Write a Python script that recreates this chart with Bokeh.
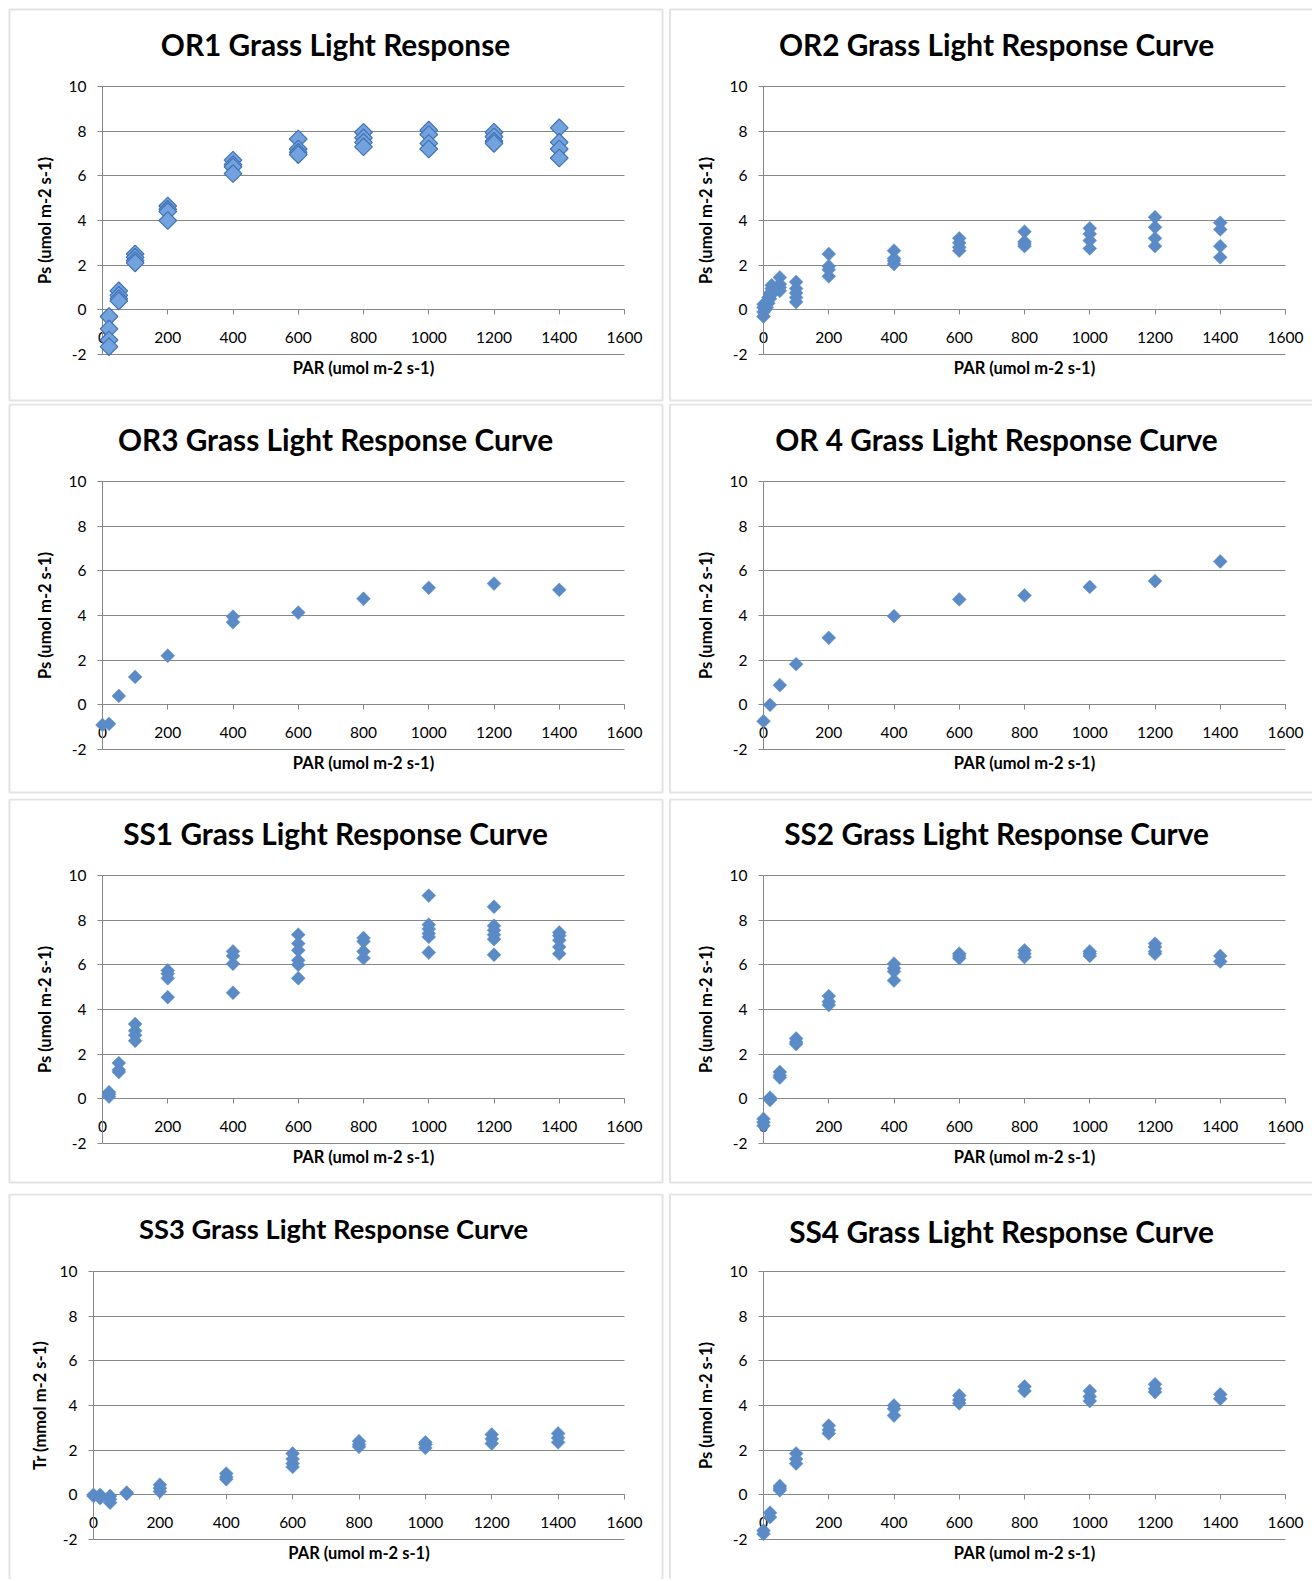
import math
from bokeh.plotting import figure
from bokeh.models import FixedTicker, Range1d, Label, BoxAnnotation
from bokeh.layouts import column, row
from bokeh.embed import file_html
from bokeh.resources import INLINE

# ---------------- data ----------------
x_ticks = [0, 200, 400, 600, 800, 1000, 1200, 1400, 1600]
x_tick_labels = ["0", "200", "400", "600", "800", "1000", "1200", "1400", "1600"]
y_ticks = [-2, 0, 2, 4, 6, 8, 10]
y_tick_labels = ["-2", "0", "2", "4", "6", "8", "10"]

x_label = "PAR (umol m-2 s-1)"
ps_label = "Ps (umol m-2 s-1)"
tr_label = "Tr (mmol m-2 s-1)"

titles = [
    "OR1 Grass Light Response",
    "OR2 Grass Light Response Curve",
    "OR3 Grass Light Response Curve",
    "OR 4 Grass Light Response Curve",
    "SS1 Grass Light Response Curve",
    "SS2 Grass Light Response Curve",
    "SS3 Grass Light Response Curve",
    "SS4 Grass Light Response Curve",
]

or1_par = [20, 20, 20, 20, 50, 50, 50, 50, 100, 100, 100, 100, 200, 200, 200, 200,
           400, 400, 400, 400, 600, 600, 600, 600, 800, 800, 800, 800,
           1000, 1000, 1000, 1000, 1200, 1200, 1200, 1200, 1400, 1400, 1400, 1400]
or1_ps = [-0.3, -0.85, -1.35, -1.65, 0.85, 0.65, 0.5, 0.4, 2.5, 2.35, 2.2, 2.1,
          4.65, 4.5, 4.4, 4.0, 6.7, 6.5, 6.4, 6.1, 7.65, 7.2, 7.05, 6.95,
          7.95, 7.7, 7.5, 7.3, 8.05, 7.85, 7.45, 7.2, 7.95, 7.75, 7.55, 7.45,
          8.15, 7.5, 7.2, 6.8]

or2_par = [0, 0, 0, 0, 5, 5, 10, 10, 15, 15, 20, 20, 25, 25, 25,
           50, 50, 50, 50, 100, 100, 100, 100, 100, 200, 200, 200, 200,
           400, 400, 400, 400, 600, 600, 600, 600, 800, 800, 800, 800,
           1000, 1000, 1000, 1000, 1200, 1200, 1200, 1200, 1400, 1400, 1400, 1400]
or2_ps = [-0.3, -0.1, 0.1, 0.25, 0.0, 0.2, 0.1, 0.35, 0.3, 0.55, 0.5, 0.75, 0.7, 0.95, 1.1,
          1.45, 1.15, 1.0, 0.85, 1.25, 0.95, 0.75, 0.55, 0.35, 2.5, 1.95, 1.8, 1.5,
          2.65, 2.3, 2.2, 2.05, 3.2, 3.0, 2.8, 2.65, 3.5, 3.05, 2.95, 2.85,
          3.65, 3.4, 3.1, 2.75, 4.15, 3.7, 3.2, 2.85, 3.9, 3.6, 2.85, 2.35]

or3_par = [0, 20, 50, 100, 200, 400, 400, 600, 800, 1000, 1200, 1400]
or3_ps = [-0.9, -0.85, 0.4, 1.25, 2.2, 3.95, 3.7, 4.13, 4.75, 5.24, 5.43, 5.15]

or4_par = [0, 20, 50, 100, 200, 400, 600, 800, 1000, 1200, 1400]
or4_ps = [-0.73, 0.0, 0.88, 1.82, 3.0, 3.97, 4.72, 4.9, 5.28, 5.54, 6.42]

ss1_par = [20, 20, 20, 50, 50, 50, 100, 100, 100, 100, 200, 200, 200, 200,
           400, 400, 400, 400, 600, 600, 600, 600, 600, 600, 800, 800, 800, 800,
           1000, 1000, 1000, 1000, 1000, 1000, 1200, 1200, 1200, 1200, 1200, 1200,
           1400, 1400, 1400, 1400, 1400]
ss1_ps = [0.3, 0.2, 0.1, 1.6, 1.3, 1.2, 3.35, 3.05, 2.85, 2.6, 5.75, 5.6, 5.4, 4.55,
          6.6, 6.4, 6.05, 4.75, 7.35, 6.95, 6.65, 6.2, 6.0, 5.4, 7.2, 7.05, 6.6, 6.3,
          9.1, 7.8, 7.6, 7.4, 7.25, 6.55, 8.6, 7.75, 7.55, 7.35, 7.15, 6.45,
          7.45, 7.3, 7.1, 6.8, 6.5]

ss2_par = [0, 0, 0, 20, 20, 20, 50, 50, 50, 100, 100, 100, 200, 200, 200,
           400, 400, 400, 400, 600, 600, 600, 800, 800, 800, 1000, 1000, 1000,
           1200, 1200, 1200, 1200, 1400, 1400]
ss2_ps = [-0.9, -1.05, -1.2, 0.05, 0.0, -0.05, 1.2, 1.05, 0.95, 2.7, 2.55, 2.45, 4.6, 4.35, 4.2,
          6.05, 5.85, 5.7, 5.3, 6.5, 6.4, 6.3, 6.65, 6.5, 6.35, 6.6, 6.5, 6.4,
          6.95, 6.8, 6.6, 6.5, 6.4, 6.15]

ss3_par = [0, 0, 20, 20, 50, 50, 50, 100, 100, 200, 200, 200, 400, 400, 400,
           600, 600, 600, 600, 800, 800, 800, 1000, 1000, 1000, 1200, 1200, 1200,
           1400, 1400, 1400]
ss3_tr = [0.0, -0.05, 0.0, -0.15, -0.05, -0.2, -0.35, 0.1, 0.05, 0.45, 0.3, 0.15, 0.95, 0.8, 0.7,
          1.85, 1.6, 1.4, 1.25, 2.4, 2.25, 2.15, 2.35, 2.25, 2.1, 2.7, 2.5, 2.3,
          2.75, 2.55, 2.35]

ss4_par = [0, 0, 20, 20, 50, 50, 50, 100, 100, 100, 200, 200, 200, 400, 400, 400,
           600, 600, 600, 800, 800, 1000, 1000, 1000, 1200, 1200, 1200, 1400, 1400]
ss4_ps = [-1.6, -1.75, -0.8, -1.0, 0.4, 0.3, 0.2, 1.85, 1.6, 1.4, 3.1, 2.9, 2.75, 4.0, 3.85, 3.55,
          4.45, 4.25, 4.1, 4.85, 4.65, 4.65, 4.4, 4.2, 4.95, 4.75, 4.6, 4.5, 4.3]

# ---------------- style / layout (pixels) ----------------
FONT = "Lato"
GRID = "#878787"
BORDER = "#a3a3a3"
MARK = "#5a8bc7"

COL_W = [666, 646]
ROW_H = [403, 395, 395, 386]
FRAME_X = [(102, 624), (97, 619)]          # plot-area left/right in each column
FRAME_Y = [(86, 354), (78, 346), (77, 345), (78, 346)]   # plot-area top/bottom per row
BORDER_X = [(9, 662), (3.5, None)]
BORDER_Y = [(9, 400), (1, 389), (1, 384), (1, None)]
XMIN, XMAX = 0, 1600
YMIN, YMAX = -2, 10


def make_panel(title, xs, ys, ylabel, col, rw, title_cx, title_cy,
               frame_left=None, ylab_standoff=11, title_size="29.8px", big=False):
    w, h = COL_W[col], ROW_H[rw]
    fl, fr = FRAME_X[col]
    if frame_left is not None:
        fl = frame_left
    ft, fb = FRAME_Y[rw]
    kx = (XMAX - XMIN) / (fr - fl)
    ky = (YMAX - YMIN) / (fb - ft)

    def px(v):
        return XMIN + (v - fl) * kx

    def py(v):
        return YMAX - (v - ft) * ky

    p = figure(width=w, height=h, x_range=Range1d(px(0), px(w)),
               y_range=Range1d(py(h), py(0)),
               output_backend="svg", toolbar_location=None, min_border=0)
    p.outline_line_color = None
    p.background_fill_color = "white"
    p.border_fill_color = "white"
    p.xgrid.visible = False
    p.ygrid.ticker = FixedTicker(ticks=y_ticks)
    p.ygrid.cross_bounds = (XMIN, XMAX)
    p.ygrid.grid_line_color = GRID
    p.ygrid.grid_line_width = 1

    xa = p.xaxis[0]
    xa.fixed_location = 0
    xa.bounds = (XMIN, XMAX)
    xa.ticker = FixedTicker(ticks=x_ticks)
    xa.major_label_overrides = {t: s for t, s in zip(x_ticks, x_tick_labels)}
    xa.axis_line_color = GRID
    xa.major_tick_line_color = GRID
    xa.minor_tick_line_color = None
    xa.major_tick_in = 0
    xa.major_tick_out = 5
    xa.major_label_standoff = 17
    xa.major_label_text_font = FONT
    xa.major_label_text_font_size = "15.5px"
    xa.major_label_text_color = "black"
    xa.axis_label = x_label
    xa.axis_label_standoff = 12
    xa.axis_label_text_font = FONT
    xa.axis_label_text_font_style = "bold"
    xa.axis_label_text_font_size = "16.5px"
    xa.axis_label_text_color = "black"

    ya = p.yaxis[0]
    ya.fixed_location = 0
    ya.bounds = (YMIN, YMAX)
    ya.ticker = FixedTicker(ticks=y_ticks)
    ya.major_label_overrides = {t: s for t, s in zip(y_ticks, y_tick_labels)}
    ya.axis_line_color = GRID
    ya.major_tick_line_color = GRID
    ya.minor_tick_line_color = None
    ya.major_tick_in = 0
    ya.major_tick_out = 5
    ya.major_label_standoff = 11
    ya.major_label_text_font = FONT
    ya.major_label_text_font_size = "15.5px"
    ya.major_label_text_color = "black"
    ya.axis_label = ylabel
    ya.axis_label_standoff = ylab_standoff
    ya.axis_label_text_font = FONT
    ya.axis_label_text_font_style = "bold"
    ya.axis_label_text_font_size = "16.5px"
    ya.axis_label_text_color = "black"

    if big:
        r = p.scatter(xs, ys, marker="square", size=12.5, angle=math.pi / 4,
                      fill_color="#72a3df", line_color="#4272b4", line_width=1.2)
    else:
        r = p.scatter(xs, ys, marker="square", size=9.8, angle=math.pi / 4,
                      fill_color=MARK, line_color=MARK, line_width=0.5)
    r.level = "overlay"

    p.add_layout(Label(x=px(title_cx), y=py(title_cy), text=title,
                       text_align="center", text_baseline="middle",
                       text_font=FONT, text_font_style="bold",
                       text_font_size=title_size, text_color="black"))

    bl, br = BORDER_X[col]
    bt, bb = BORDER_Y[rw]
    p.add_layout(BoxAnnotation(left=px(bl), right=px(br if br is not None else w + 20),
                               top=py(bt), bottom=py(bb if bb is not None else h + 20),
                               fill_color=None, fill_alpha=0,
                               line_color=BORDER, line_width=2, level="overlay"))
    return p


p1 = make_panel(titles[0], or1_par, or1_ps, ps_label, 0, 0, 335, 44, big=True)
p2 = make_panel(titles[1], or2_par, or2_ps, ps_label, 1, 0, 330, 44)
p3 = make_panel(titles[2], or3_par, or3_ps, ps_label, 0, 1, 335, 36)
p4 = make_panel(titles[3], or4_par, or4_ps, ps_label, 1, 1, 330, 36)
p5 = make_panel(titles[4], ss1_par, ss1_ps, ps_label, 0, 2, 335, 35)
p6 = make_panel(titles[5], ss2_par, ss2_ps, ps_label, 1, 2, 330, 35)
p7 = make_panel(titles[6], ss3_par, ss3_tr, tr_label, 0, 3, 333, 35,
                frame_left=93, ylab_standoff=7, title_size="27.3px")
p8 = make_panel(titles[7], ss4_par, ss4_ps, ps_label, 1, 3, 335, 38)

layout = column(row(p1, p2), row(p3, p4), row(p5, p6), row(p7, p8))

open("out.html", "w").write(file_html(layout, INLINE))
